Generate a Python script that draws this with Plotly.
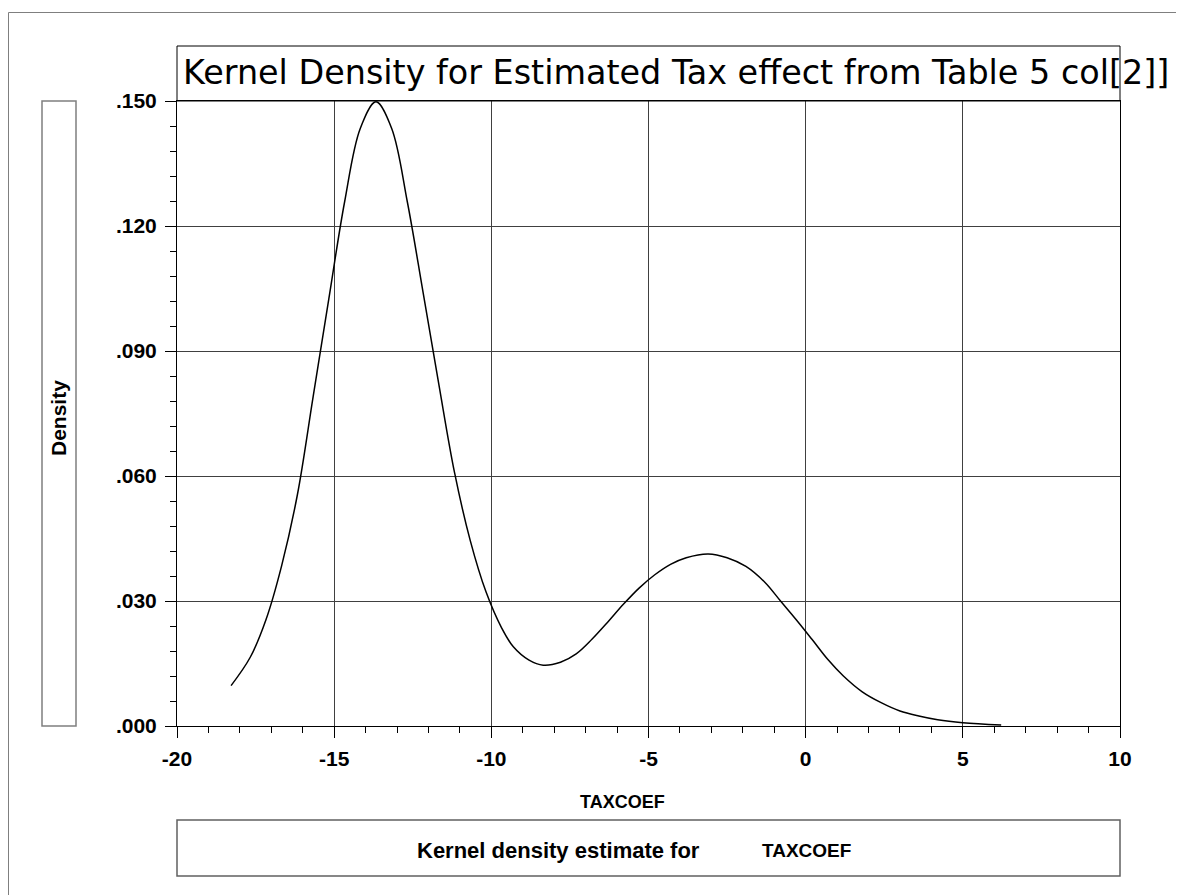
import plotly.graph_objects as go

# ---- data ----
taxcoef = [-18.28, -17.67, -17.17, -16.67, -16.17, -15.67, -15.17, -14.67, -14.17, -13.67,
           -13.17, -12.67, -12.17, -11.67, -11.17, -10.67, -10.17, -9.67, -9.30, -8.80,
           -8.35, -7.80, -7.30, -6.80, -6.30, -5.80, -5.30, -4.80, -4.30, -3.80,
           -3.10, -2.50, -1.90, -1.30, -0.80, -0.30, 0.20, 0.70, 1.20, 1.80,
           2.40, 3.00, 3.60, 4.20, 5.00, 6.22]
density = [0.0097, 0.0165, 0.0255, 0.0385, 0.0555, 0.0790, 0.1025, 0.1257, 0.1434, 0.1498,
           0.1434, 0.1257, 0.1040, 0.0820, 0.0608, 0.0445, 0.0322, 0.0235, 0.0190, 0.0158,
           0.0146, 0.0153, 0.0173, 0.0208, 0.0249, 0.0292, 0.0331, 0.0363, 0.0388, 0.0404,
           0.0413, 0.0404, 0.0383, 0.0345, 0.0300, 0.0255, 0.0208, 0.0160, 0.0120, 0.0082,
           0.0056, 0.0036, 0.0024, 0.0015, 0.0008, 0.00024]

y_tickvals = [0.0, 0.03, 0.06, 0.09, 0.12, 0.15]
y_ticktext = [".000", ".030", ".060", ".090", ".120", ".150"]
x_tickvals = [-20, -15, -10, -5, 0, 5, 10]
x_ticktext = ["-20", "-15", "-10", "-5", "0", "5", "10"]

title_text = "Kernel Density for Estimated Tax effect from Table 5 col[2]]"
y_title = "Density"
x_title = "TAXCOEF"
legend_label = "Kernel density estimate for"
legend_var = "TAXCOEF"

W, H = 1184, 895
OFF = 8  # page body margin offset
L, R, T, B = 177 - OFF, 1120 - OFF, 101 - OFF, 726 - OFF  # plot area in figure pixels

def px(xp):
    """reference page x-pixel -> paper coordinate"""
    return (xp - OFF - L) / (R - L)

def py(yp):
    """reference page y-pixel -> paper coordinate"""
    return (B - (yp - OFF)) / (B - T)

FONT = "Liberation Sans, Arial, sans-serif"
TFONT = "DejaVu Sans, Liberation Sans, sans-serif"

fig = go.Figure()
fig.add_trace(go.Scatter(
    x=taxcoef, y=density, mode="lines",
    line=dict(color="black", width=1.5, shape="spline", smoothing=1.0),
    showlegend=False, hoverinfo="skip",
))

fig.update_layout(
    width=W, height=H,
    margin=dict(l=L, r=W - R, t=T, b=H - B, pad=0),
    paper_bgcolor="white", plot_bgcolor="white",
    font=dict(family=FONT, color="black"),
    showlegend=False,
)

fig.update_xaxes(
    range=[-20, 10], tickvals=x_tickvals, ticktext=x_ticktext,
    ticks="outside", ticklen=11, tickwidth=1, tickcolor="black",
    showline=True, linecolor="black", linewidth=1, mirror=True,
    showgrid=True, gridcolor="#404040", gridwidth=1, zeroline=False,
    tickfont=dict(family=FONT, size=21, color="black", weight="bold"),
    ticklabelstandoff=3,
    minor=dict(dtick=1, tick0=-20, ticks="outside", ticklen=6, tickcolor="black", showgrid=False),
)
fig.update_yaxes(
    range=[0, 0.15], tickvals=y_tickvals, ticktext=y_ticktext,
    ticks="outside", ticklen=11, tickwidth=1, tickcolor="black",
    showline=True, linecolor="black", linewidth=1, mirror=True,
    showgrid=True, gridcolor="#404040", gridwidth=1, zeroline=False,
    tickfont=dict(family=FONT, size=21, color="black", weight="bold"),
    ticklabelstandoff=4,
    minor=dict(dtick=0.006, tick0=0, ticks="outside", ticklen=6, tickcolor="black", showgrid=False),
)

shapes = [
    # outer frame
    dict(type="rect", xref="paper", yref="paper", x0=px(8.5), x1=px(1210), y0=py(12.5), y1=py(920),
         line=dict(color="#7f7f7f", width=1)),
    # title box
    dict(type="rect", xref="paper", yref="paper", x0=px(177), x1=px(1120), y0=py(46), y1=py(101),
         line=dict(color="black", width=1)),
    # y title box
    dict(type="rect", xref="paper", yref="paper", x0=px(42), x1=px(76), y0=py(101), y1=py(726),
         line=dict(color="#7f7f7f", width=1.5)),
    # legend box
    dict(type="rect", xref="paper", yref="paper", x0=px(177), x1=px(1120), y0=py(820), y1=py(876),
         line=dict(color="#606060", width=1.5)),
]
fig.update_layout(shapes=shapes)

annotations = [
    dict(text=title_text, xref="paper", yref="paper", x=px(181), y=py(72),
         xanchor="left", yanchor="middle", showarrow=False,
         font=dict(family=TFONT, size=33.4, color="black")),
    dict(text=y_title, xref="paper", yref="paper", x=px(58), y=py(418),
         xanchor="center", yanchor="middle", showarrow=False, textangle=-90,
         font=dict(family=FONT, size=21, color="black", weight="bold")),
    dict(text=x_title, xref="paper", yref="paper", x=px(622), y=py(802),
         xanchor="center", yanchor="middle", showarrow=False,
         font=dict(family=FONT, size=18, color="black", weight="bold")),
    dict(text=legend_label, xref="paper", yref="paper", x=px(415), y=py(850),
         xanchor="left", yanchor="middle", showarrow=False,
         font=dict(family=FONT, size=22, color="black", weight="bold")),
    dict(text=legend_var, xref="paper", yref="paper", x=px(760), y=py(850),
         xanchor="left", yanchor="middle", showarrow=False,
         font=dict(family=FONT, size=19, color="black", weight="bold")),
]
fig.update_layout(annotations=annotations)

fig.write_html("out.html")
